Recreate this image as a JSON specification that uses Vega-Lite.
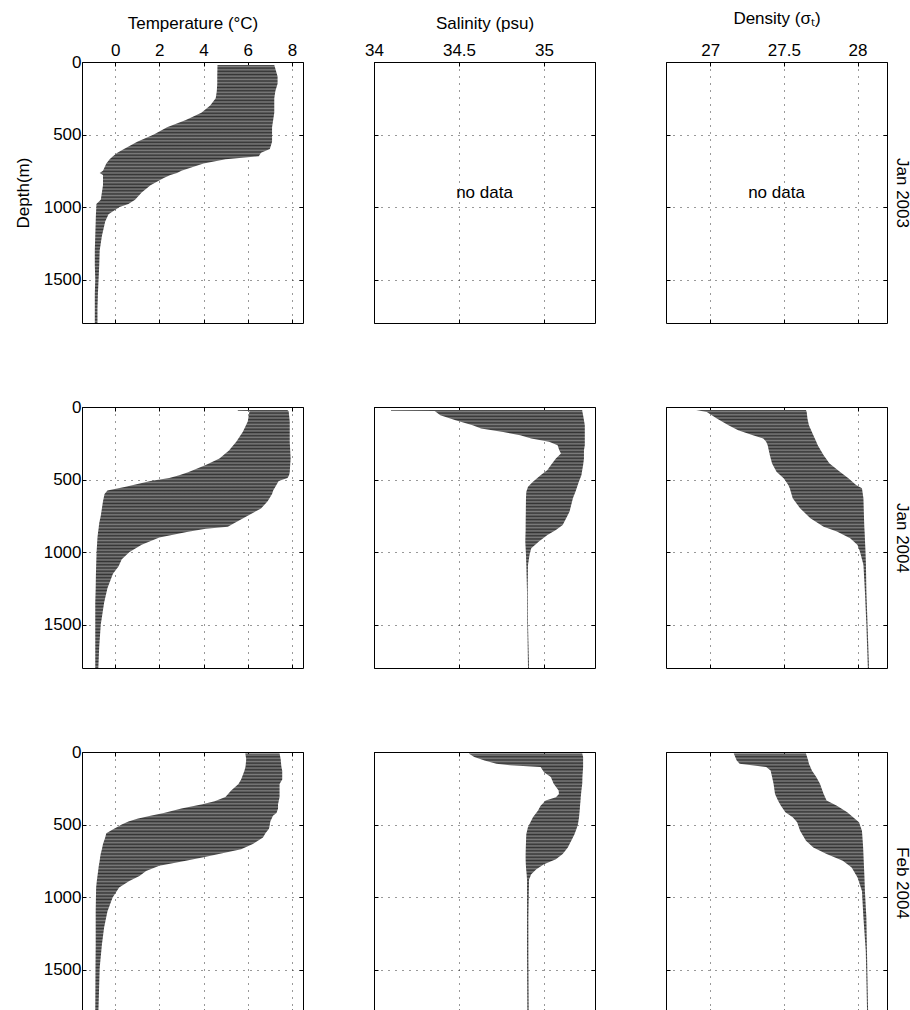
{
  "$schema": "https://vega.github.io/schema/vega-lite/v6.json",
  "padding": {"left": 13, "top": 8, "right": 25, "bottom": 0},
  "background": "white",
  "datasets": {
    "profiles": [
      {"date":"Jan 2003","var":"T","depth":20,"min":4.63,"max":7.2},
      {"date":"Jan 2003","var":"T","depth":100,"min":4.62,"max":7.35},
      {"date":"Jan 2003","var":"T","depth":150,"min":4.62,"max":7.35},
      {"date":"Jan 2003","var":"T","depth":200,"min":4.6,"max":7.25},
      {"date":"Jan 2003","var":"T","depth":250,"min":4.55,"max":7.2},
      {"date":"Jan 2003","var":"T","depth":300,"min":4.3,"max":7.2},
      {"date":"Jan 2003","var":"T","depth":350,"min":3.9,"max":7.2},
      {"date":"Jan 2003","var":"T","depth":400,"min":3.2,"max":7.15},
      {"date":"Jan 2003","var":"T","depth":450,"min":2.35,"max":7.1},
      {"date":"Jan 2003","var":"T","depth":500,"min":1.75,"max":7.1},
      {"date":"Jan 2003","var":"T","depth":550,"min":1.0,"max":7.1},
      {"date":"Jan 2003","var":"T","depth":600,"min":0.4,"max":7.0},
      {"date":"Jan 2003","var":"T","depth":625,"min":0.1,"max":6.6},
      {"date":"Jan 2003","var":"T","depth":650,"min":-0.1,"max":6.5},
      {"date":"Jan 2003","var":"T","depth":670,"min":-0.25,"max":5.0},
      {"date":"Jan 2003","var":"T","depth":700,"min":-0.4,"max":4.0},
      {"date":"Jan 2003","var":"T","depth":750,"min":-0.55,"max":3.0},
      {"date":"Jan 2003","var":"T","depth":765,"min":-0.7,"max":2.8},
      {"date":"Jan 2003","var":"T","depth":780,"min":-0.55,"max":2.5},
      {"date":"Jan 2003","var":"T","depth":800,"min":-0.55,"max":2.2},
      {"date":"Jan 2003","var":"T","depth":850,"min":-0.55,"max":1.6},
      {"date":"Jan 2003","var":"T","depth":900,"min":-0.6,"max":1.2},
      {"date":"Jan 2003","var":"T","depth":950,"min":-0.65,"max":0.9},
      {"date":"Jan 2003","var":"T","depth":980,"min":-0.85,"max":0.6},
      {"date":"Jan 2003","var":"T","depth":1000,"min":-0.85,"max":0.2},
      {"date":"Jan 2003","var":"T","depth":1050,"min":-0.87,"max":-0.3},
      {"date":"Jan 2003","var":"T","depth":1100,"min":-0.88,"max":-0.45},
      {"date":"Jan 2003","var":"T","depth":1200,"min":-0.9,"max":-0.6},
      {"date":"Jan 2003","var":"T","depth":1300,"min":-0.92,"max":-0.7},
      {"date":"Jan 2003","var":"T","depth":1400,"min":-0.92,"max":-0.72},
      {"date":"Jan 2003","var":"T","depth":1500,"min":-0.9,"max":-0.75},
      {"date":"Jan 2003","var":"T","depth":1600,"min":-0.92,"max":-0.78},
      {"date":"Jan 2003","var":"T","depth":1700,"min":-0.92,"max":-0.8},
      {"date":"Jan 2003","var":"T","depth":1800,"min":-0.92,"max":-0.8},

      {"date":"Jan 2004","var":"T","depth":20,"min":5.55,"max":7.8},
      {"date":"Jan 2004","var":"T","depth":26,"min":5.55,"max":7.82},
      {"date":"Jan 2004","var":"T","depth":28,"min":6.08,"max":7.85},
      {"date":"Jan 2004","var":"T","depth":100,"min":6.0,"max":7.9},
      {"date":"Jan 2004","var":"T","depth":170,"min":5.78,"max":7.9},
      {"date":"Jan 2004","var":"T","depth":240,"min":5.48,"max":7.9},
      {"date":"Jan 2004","var":"T","depth":300,"min":5.15,"max":7.92},
      {"date":"Jan 2004","var":"T","depth":355,"min":4.72,"max":7.94},
      {"date":"Jan 2004","var":"T","depth":400,"min":4.1,"max":7.92},
      {"date":"Jan 2004","var":"T","depth":450,"min":3.3,"max":7.9},
      {"date":"Jan 2004","var":"T","depth":470,"min":2.9,"max":7.87},
      {"date":"Jan 2004","var":"T","depth":490,"min":2.45,"max":7.8},
      {"date":"Jan 2004","var":"T","depth":510,"min":1.6,"max":7.4},
      {"date":"Jan 2004","var":"T","depth":550,"min":0.48,"max":7.25},
      {"date":"Jan 2004","var":"T","depth":575,"min":-0.35,"max":7.15},
      {"date":"Jan 2004","var":"T","depth":600,"min":-0.48,"max":7.1},
      {"date":"Jan 2004","var":"T","depth":650,"min":-0.55,"max":6.9},
      {"date":"Jan 2004","var":"T","depth":700,"min":-0.6,"max":6.6},
      {"date":"Jan 2004","var":"T","depth":750,"min":-0.65,"max":6.0},
      {"date":"Jan 2004","var":"T","depth":800,"min":-0.72,"max":5.4},
      {"date":"Jan 2004","var":"T","depth":825,"min":-0.74,"max":5.1},
      {"date":"Jan 2004","var":"T","depth":840,"min":-0.75,"max":4.1},
      {"date":"Jan 2004","var":"T","depth":860,"min":-0.77,"max":3.3},
      {"date":"Jan 2004","var":"T","depth":900,"min":-0.8,"max":2.0},
      {"date":"Jan 2004","var":"T","depth":950,"min":-0.82,"max":1.2},
      {"date":"Jan 2004","var":"T","depth":1000,"min":-0.84,"max":0.65},
      {"date":"Jan 2004","var":"T","depth":1050,"min":-0.85,"max":0.3},
      {"date":"Jan 2004","var":"T","depth":1100,"min":-0.86,"max":0.15},
      {"date":"Jan 2004","var":"T","depth":1150,"min":-0.87,"max":-0.1},
      {"date":"Jan 2004","var":"T","depth":1250,"min":-0.88,"max":-0.35},
      {"date":"Jan 2004","var":"T","depth":1350,"min":-0.9,"max":-0.5},
      {"date":"Jan 2004","var":"T","depth":1500,"min":-0.9,"max":-0.65},
      {"date":"Jan 2004","var":"T","depth":1650,"min":-0.9,"max":-0.72},
      {"date":"Jan 2004","var":"T","depth":1800,"min":-0.9,"max":-0.76},

      {"date":"Feb 2004","var":"T","depth":10,"min":5.89,"max":7.44},
      {"date":"Feb 2004","var":"T","depth":50,"min":5.93,"max":7.49},
      {"date":"Feb 2004","var":"T","depth":100,"min":5.9,"max":7.52},
      {"date":"Feb 2004","var":"T","depth":130,"min":5.85,"max":7.56},
      {"date":"Feb 2004","var":"T","depth":190,"min":5.7,"max":7.56},
      {"date":"Feb 2004","var":"T","depth":220,"min":5.58,"max":7.44},
      {"date":"Feb 2004","var":"T","depth":265,"min":5.25,"max":7.44},
      {"date":"Feb 2004","var":"T","depth":310,"min":4.99,"max":7.44},
      {"date":"Feb 2004","var":"T","depth":340,"min":4.5,"max":7.4},
      {"date":"Feb 2004","var":"T","depth":360,"min":3.95,"max":7.37},
      {"date":"Feb 2004","var":"T","depth":390,"min":3.0,"max":7.37},
      {"date":"Feb 2004","var":"T","depth":420,"min":2.2,"max":7.3},
      {"date":"Feb 2004","var":"T","depth":440,"min":1.6,"max":7.14},
      {"date":"Feb 2004","var":"T","depth":460,"min":1.0,"max":7.08},
      {"date":"Feb 2004","var":"T","depth":480,"min":0.6,"max":7.02},
      {"date":"Feb 2004","var":"T","depth":500,"min":0.3,"max":7.0},
      {"date":"Feb 2004","var":"T","depth":530,"min":-0.05,"max":6.96},
      {"date":"Feb 2004","var":"T","depth":560,"min":-0.4,"max":6.8},
      {"date":"Feb 2004","var":"T","depth":590,"min":-0.45,"max":6.69},
      {"date":"Feb 2004","var":"T","depth":635,"min":-0.55,"max":6.23},
      {"date":"Feb 2004","var":"T","depth":670,"min":-0.6,"max":5.7},
      {"date":"Feb 2004","var":"T","depth":700,"min":-0.65,"max":4.8},
      {"date":"Feb 2004","var":"T","depth":725,"min":-0.68,"max":4.0},
      {"date":"Feb 2004","var":"T","depth":750,"min":-0.7,"max":3.2},
      {"date":"Feb 2004","var":"T","depth":785,"min":-0.74,"max":2.0},
      {"date":"Feb 2004","var":"T","depth":820,"min":-0.77,"max":1.4},
      {"date":"Feb 2004","var":"T","depth":855,"min":-0.8,"max":1.1},
      {"date":"Feb 2004","var":"T","depth":890,"min":-0.83,"max":0.64},
      {"date":"Feb 2004","var":"T","depth":935,"min":-0.86,"max":0.18},
      {"date":"Feb 2004","var":"T","depth":1005,"min":-0.87,"max":-0.12},
      {"date":"Feb 2004","var":"T","depth":1100,"min":-0.88,"max":-0.35},
      {"date":"Feb 2004","var":"T","depth":1210,"min":-0.88,"max":-0.5},
      {"date":"Feb 2004","var":"T","depth":1330,"min":-0.88,"max":-0.6},
      {"date":"Feb 2004","var":"T","depth":1490,"min":-0.89,"max":-0.7},
      {"date":"Feb 2004","var":"T","depth":1800,"min":-0.9,"max":-0.76},

      {"date":"Jan 2004","var":"S","depth":20,"min":34.1,"max":35.225},
      {"date":"Jan 2004","var":"S","depth":26,"min":34.1,"max":35.225},
      {"date":"Jan 2004","var":"S","depth":28,"min":34.357,"max":35.225},
      {"date":"Jan 2004","var":"S","depth":57,"min":34.39,"max":35.23},
      {"date":"Jan 2004","var":"S","depth":92,"min":34.48,"max":35.235},
      {"date":"Jan 2004","var":"S","depth":126,"min":34.58,"max":35.24},
      {"date":"Jan 2004","var":"S","depth":149,"min":34.63,"max":35.24},
      {"date":"Jan 2004","var":"S","depth":172,"min":34.76,"max":35.24},
      {"date":"Jan 2004","var":"S","depth":195,"min":34.86,"max":35.24},
      {"date":"Jan 2004","var":"S","depth":218,"min":34.925,"max":35.24},
      {"date":"Jan 2004","var":"S","depth":240,"min":35.03,"max":35.24},
      {"date":"Jan 2004","var":"S","depth":263,"min":35.08,"max":35.24},
      {"date":"Jan 2004","var":"S","depth":298,"min":35.09,"max":35.235},
      {"date":"Jan 2004","var":"S","depth":321,"min":35.1,"max":35.235},
      {"date":"Jan 2004","var":"S","depth":355,"min":35.07,"max":35.235},
      {"date":"Jan 2004","var":"S","depth":401,"min":35.04,"max":35.23},
      {"date":"Jan 2004","var":"S","depth":435,"min":35.02,"max":35.225},
      {"date":"Jan 2004","var":"S","depth":470,"min":34.98,"max":35.22},
      {"date":"Jan 2004","var":"S","depth":515,"min":34.935,"max":35.205},
      {"date":"Jan 2004","var":"S","depth":550,"min":34.906,"max":35.195},
      {"date":"Jan 2004","var":"S","depth":584,"min":34.896,"max":35.185},
      {"date":"Jan 2004","var":"S","depth":630,"min":34.894,"max":35.17},
      {"date":"Jan 2004","var":"S","depth":722,"min":34.893,"max":35.15},
      {"date":"Jan 2004","var":"S","depth":813,"min":34.892,"max":35.11},
      {"date":"Jan 2004","var":"S","depth":848,"min":34.892,"max":35.07},
      {"date":"Jan 2004","var":"S","depth":882,"min":34.891,"max":35.02},
      {"date":"Jan 2004","var":"S","depth":928,"min":34.89,"max":34.97},
      {"date":"Jan 2004","var":"S","depth":974,"min":34.892,"max":34.925},
      {"date":"Jan 2004","var":"S","depth":1019,"min":34.894,"max":34.915},
      {"date":"Jan 2004","var":"S","depth":1088,"min":34.896,"max":34.906},
      {"date":"Jan 2004","var":"S","depth":1271,"min":34.9,"max":34.904},
      {"date":"Jan 2004","var":"S","depth":1501,"min":34.902,"max":34.906},
      {"date":"Jan 2004","var":"S","depth":1800,"min":34.906,"max":34.912},

      {"date":"Feb 2004","var":"S","depth":10,"min":34.557,"max":35.225},
      {"date":"Feb 2004","var":"S","depth":35,"min":34.59,"max":35.23},
      {"date":"Feb 2004","var":"S","depth":58,"min":34.65,"max":35.23},
      {"date":"Feb 2004","var":"S","depth":81,"min":34.72,"max":35.23},
      {"date":"Feb 2004","var":"S","depth":92,"min":34.8,"max":35.23},
      {"date":"Feb 2004","var":"S","depth":104,"min":34.98,"max":35.23},
      {"date":"Feb 2004","var":"S","depth":139,"min":35.0,"max":35.228},
      {"date":"Feb 2004","var":"S","depth":173,"min":35.04,"max":35.226},
      {"date":"Feb 2004","var":"S","depth":219,"min":35.057,"max":35.225},
      {"date":"Feb 2004","var":"S","depth":266,"min":35.086,"max":35.22},
      {"date":"Feb 2004","var":"S","depth":289,"min":35.088,"max":35.218},
      {"date":"Feb 2004","var":"S","depth":312,"min":35.07,"max":35.216},
      {"date":"Feb 2004","var":"S","depth":335,"min":35.01,"max":35.215},
      {"date":"Feb 2004","var":"S","depth":370,"min":34.98,"max":35.212},
      {"date":"Feb 2004","var":"S","depth":404,"min":34.965,"max":35.21},
      {"date":"Feb 2004","var":"S","depth":450,"min":34.935,"max":35.206},
      {"date":"Feb 2004","var":"S","depth":497,"min":34.915,"max":35.2},
      {"date":"Feb 2004","var":"S","depth":520,"min":34.905,"max":35.194},
      {"date":"Feb 2004","var":"S","depth":566,"min":34.896,"max":35.18},
      {"date":"Feb 2004","var":"S","depth":589,"min":34.895,"max":35.17},
      {"date":"Feb 2004","var":"S","depth":658,"min":34.893,"max":35.14},
      {"date":"Feb 2004","var":"S","depth":704,"min":34.892,"max":35.11},
      {"date":"Feb 2004","var":"S","depth":739,"min":34.892,"max":35.07},
      {"date":"Feb 2004","var":"S","depth":774,"min":34.893,"max":35.0},
      {"date":"Feb 2004","var":"S","depth":808,"min":34.895,"max":34.955},
      {"date":"Feb 2004","var":"S","depth":843,"min":34.898,"max":34.925},
      {"date":"Feb 2004","var":"S","depth":880,"min":34.9,"max":34.912},
      {"date":"Feb 2004","var":"S","depth":1143,"min":34.9,"max":34.908},
      {"date":"Feb 2004","var":"S","depth":1400,"min":34.9,"max":34.908},
      {"date":"Feb 2004","var":"S","depth":1800,"min":34.902,"max":34.91},

      {"date":"Jan 2004","var":"D","depth":20,"min":26.905,"max":27.65},
      {"date":"Jan 2004","var":"D","depth":34,"min":26.977,"max":27.655},
      {"date":"Jan 2004","var":"D","depth":80,"min":27.045,"max":27.66},
      {"date":"Jan 2004","var":"D","depth":126,"min":27.124,"max":27.67},
      {"date":"Jan 2004","var":"D","depth":160,"min":27.19,"max":27.685},
      {"date":"Jan 2004","var":"D","depth":195,"min":27.29,"max":27.7},
      {"date":"Jan 2004","var":"D","depth":218,"min":27.36,"max":27.71},
      {"date":"Jan 2004","var":"D","depth":240,"min":27.38,"max":27.72},
      {"date":"Jan 2004","var":"D","depth":263,"min":27.39,"max":27.73},
      {"date":"Jan 2004","var":"D","depth":332,"min":27.405,"max":27.77},
      {"date":"Jan 2004","var":"D","depth":389,"min":27.42,"max":27.81},
      {"date":"Jan 2004","var":"D","depth":447,"min":27.45,"max":27.88},
      {"date":"Jan 2004","var":"D","depth":493,"min":27.5,"max":27.94},
      {"date":"Jan 2004","var":"D","depth":538,"min":27.53,"max":27.99},
      {"date":"Jan 2004","var":"D","depth":561,"min":27.54,"max":28.03},
      {"date":"Jan 2004","var":"D","depth":630,"min":27.56,"max":28.04},
      {"date":"Jan 2004","var":"D","depth":699,"min":27.61,"max":28.042},
      {"date":"Jan 2004","var":"D","depth":767,"min":27.68,"max":28.044},
      {"date":"Jan 2004","var":"D","depth":825,"min":27.77,"max":28.046},
      {"date":"Jan 2004","var":"D","depth":859,"min":27.86,"max":28.048},
      {"date":"Jan 2004","var":"D","depth":905,"min":27.95,"max":28.05},
      {"date":"Jan 2004","var":"D","depth":951,"min":28.0,"max":28.052},
      {"date":"Jan 2004","var":"D","depth":997,"min":28.016,"max":28.054},
      {"date":"Jan 2004","var":"D","depth":1088,"min":28.04,"max":28.057},
      {"date":"Jan 2004","var":"D","depth":1271,"min":28.05,"max":28.06},
      {"date":"Jan 2004","var":"D","depth":1501,"min":28.06,"max":28.068},
      {"date":"Jan 2004","var":"D","depth":1800,"min":28.07,"max":28.078},

      {"date":"Feb 2004","var":"D","depth":10,"min":27.16,"max":27.65},
      {"date":"Feb 2004","var":"D","depth":58,"min":27.18,"max":27.665},
      {"date":"Feb 2004","var":"D","depth":81,"min":27.2,"max":27.67},
      {"date":"Feb 2004","var":"D","depth":104,"min":27.38,"max":27.68},
      {"date":"Feb 2004","var":"D","depth":127,"min":27.41,"max":27.69},
      {"date":"Feb 2004","var":"D","depth":173,"min":27.42,"max":27.72},
      {"date":"Feb 2004","var":"D","depth":219,"min":27.43,"max":27.745},
      {"date":"Feb 2004","var":"D","depth":289,"min":27.44,"max":27.77},
      {"date":"Feb 2004","var":"D","depth":335,"min":27.46,"max":27.79},
      {"date":"Feb 2004","var":"D","depth":370,"min":27.48,"max":27.86},
      {"date":"Feb 2004","var":"D","depth":416,"min":27.51,"max":27.93},
      {"date":"Feb 2004","var":"D","depth":450,"min":27.56,"max":27.97},
      {"date":"Feb 2004","var":"D","depth":485,"min":27.59,"max":28.01},
      {"date":"Feb 2004","var":"D","depth":543,"min":27.61,"max":28.03},
      {"date":"Feb 2004","var":"D","depth":612,"min":27.65,"max":28.035},
      {"date":"Feb 2004","var":"D","depth":658,"min":27.7,"max":28.038},
      {"date":"Feb 2004","var":"D","depth":704,"min":27.79,"max":28.04},
      {"date":"Feb 2004","var":"D","depth":750,"min":27.9,"max":28.042},
      {"date":"Feb 2004","var":"D","depth":797,"min":27.96,"max":28.044},
      {"date":"Feb 2004","var":"D","depth":866,"min":28.0,"max":28.047},
      {"date":"Feb 2004","var":"D","depth":958,"min":28.03,"max":28.05},
      {"date":"Feb 2004","var":"D","depth":1143,"min":28.04,"max":28.06},
      {"date":"Feb 2004","var":"D","depth":1374,"min":28.056,"max":28.064},
      {"date":"Feb 2004","var":"D","depth":1800,"min":28.065,"max":28.072}
    ]
  },
  "columns": 3,
  "spacing": {"row": 84, "column": 71},
  "bounds": "flush",
  "concat": [
    {
      "width": 221, "height": 261,
      "layer": [
        {"data": {"name": "profiles"}, "transform": [{"filter": "datum.date == 'Jan 2003' && datum.var == 'T'"}],
         "mark": {"type": "area", "orient": "horizontal"},
         "encoding": {
           "x": {"field": "min", "type": "quantitative", "scale": {"domain": [-1.5, 8.5], "nice": false, "zero": false}, "axis": {"orient": "top", "values": [0, 2, 4, 6, 8], "format": "~g", "title": "Temperature (°C)"}},
           "x2": {"field": "max"},
           "y": {"field": "depth", "type": "quantitative", "scale": {"domain": [0, 1800], "reverse": true, "nice": false, "zero": false}, "axis": {"orient": "left", "values": [0, 500, 1000, 1500], "format": "d", "title": "Depth(m)"}}
         }},
        {"data": {"values": [{}]}, "mark": {"type": "point", "opacity": 0},
         "encoding": {
           "x": {"datum": 0, "type": "quantitative", "axis": {"orient": "bottom", "values": [0, 2, 4, 6, 8], "labels": false, "grid": false, "title": null}},
           "y": {"datum": 500, "type": "quantitative", "axis": {"orient": "right", "values": [0, 500, 1000, 1500], "labels": false, "grid": false, "title": null}}
         }}
      ],
      "resolve": {"axis": {"x": "independent", "y": "independent"}}
    },
    {
      "width": 221, "height": 261,
      "layer": [
        {"data": {"values": [{"note": "no data"}]},
         "mark": {"type": "text", "fontSize": 17, "color": "#000"},
         "encoding": {
           "x": {"datum": 34.65, "type": "quantitative", "scale": {"domain": [34, 35.3], "nice": false, "zero": false}, "axis": {"orient": "top", "values": [34, 34.5, 35], "format": "~g", "title": "Salinity (psu)"}},
           "y": {"datum": 900, "type": "quantitative", "scale": {"domain": [0, 1800], "reverse": true, "nice": false, "zero": false}, "axis": {"orient": "left", "values": [0, 500, 1000, 1500], "labels": false, "title": null}},
           "text": {"field": "note"}
         }},
        {"data": {"values": [{}]}, "mark": {"type": "point", "opacity": 0},
         "encoding": {
           "x": {"datum": 34.5, "type": "quantitative", "axis": {"orient": "bottom", "values": [34, 34.5, 35], "labels": false, "grid": false, "title": null}},
           "y": {"datum": 500, "type": "quantitative", "axis": {"orient": "right", "values": [0, 500, 1000, 1500], "labels": false, "grid": false, "title": null}}
         }}
      ],
      "resolve": {"axis": {"x": "independent", "y": "independent"}}
    },
    {
      "width": 221, "height": 261,
      "layer": [
        {"data": {"values": [{"note": "no data"}]},
         "mark": {"type": "text", "fontSize": 17, "color": "#000"},
         "encoding": {
           "x": {"datum": 27.45, "type": "quantitative", "scale": {"domain": [26.7, 28.2], "nice": false, "zero": false}, "axis": {"orient": "top", "values": [27, 27.5, 28], "format": "~g", "title": "Density (σₜ)", "titlePadding": 14}},
           "y": {"datum": 900, "type": "quantitative", "scale": {"domain": [0, 1800], "reverse": true, "nice": false, "zero": false}, "axis": {"orient": "left", "values": [0, 500, 1000, 1500], "labels": false, "title": null}},
           "text": {"field": "note"}
         }},
        {"data": {"values": [{}]}, "mark": {"type": "point", "opacity": 0},
         "encoding": {
           "x": {"datum": 27.5, "type": "quantitative", "axis": {"orient": "bottom", "values": [27, 27.5, 28], "labels": false, "grid": false, "title": null}},
           "y": {"datum": 500, "type": "quantitative", "axis": {"orient": "right", "values": [0, 500, 1000, 1500], "labels": false, "grid": false, "title": "Jan 2003"}}
         }}
      ],
      "resolve": {"axis": {"x": "independent", "y": "independent"}}
    },
    {
      "width": 221, "height": 261,
      "layer": [
        {"data": {"name": "profiles"}, "transform": [{"filter": "datum.date == 'Jan 2004' && datum.var == 'T'"}],
         "mark": {"type": "area", "orient": "horizontal"},
         "encoding": {
           "x": {"field": "min", "type": "quantitative", "scale": {"domain": [-1.5, 8.5], "nice": false, "zero": false}, "axis": {"orient": "top", "values": [0, 2, 4, 6, 8], "labels": false, "title": null}},
           "x2": {"field": "max"},
           "y": {"field": "depth", "type": "quantitative", "scale": {"domain": [0, 1800], "reverse": true, "nice": false, "zero": false}, "axis": {"orient": "left", "values": [0, 500, 1000, 1500], "format": "d", "title": null}}
         }},
        {"data": {"values": [{}]}, "mark": {"type": "point", "opacity": 0},
         "encoding": {
           "x": {"datum": 0, "type": "quantitative", "axis": {"orient": "bottom", "values": [0, 2, 4, 6, 8], "labels": false, "grid": false, "title": null}},
           "y": {"datum": 500, "type": "quantitative", "axis": {"orient": "right", "values": [0, 500, 1000, 1500], "labels": false, "grid": false, "title": null}}
         }}
      ],
      "resolve": {"axis": {"x": "independent", "y": "independent"}}
    },
    {
      "width": 221, "height": 261,
      "layer": [
        {"data": {"name": "profiles"}, "transform": [{"filter": "datum.date == 'Jan 2004' && datum.var == 'S'"}],
         "mark": {"type": "area", "orient": "horizontal"},
         "encoding": {
           "x": {"field": "min", "type": "quantitative", "scale": {"domain": [34, 35.3], "nice": false, "zero": false}, "axis": {"orient": "top", "values": [34, 34.5, 35], "labels": false, "title": null}},
           "x2": {"field": "max"},
           "y": {"field": "depth", "type": "quantitative", "scale": {"domain": [0, 1800], "reverse": true, "nice": false, "zero": false}, "axis": {"orient": "left", "values": [0, 500, 1000, 1500], "labels": false, "title": null}}
         }},
        {"data": {"values": [{}]}, "mark": {"type": "point", "opacity": 0},
         "encoding": {
           "x": {"datum": 34.5, "type": "quantitative", "axis": {"orient": "bottom", "values": [34, 34.5, 35], "labels": false, "grid": false, "title": null}},
           "y": {"datum": 500, "type": "quantitative", "axis": {"orient": "right", "values": [0, 500, 1000, 1500], "labels": false, "grid": false, "title": null}}
         }}
      ],
      "resolve": {"axis": {"x": "independent", "y": "independent"}}
    },
    {
      "width": 221, "height": 261,
      "layer": [
        {"data": {"name": "profiles"}, "transform": [{"filter": "datum.date == 'Jan 2004' && datum.var == 'D'"}],
         "mark": {"type": "area", "orient": "horizontal"},
         "encoding": {
           "x": {"field": "min", "type": "quantitative", "scale": {"domain": [26.7, 28.2], "nice": false, "zero": false}, "axis": {"orient": "top", "values": [27, 27.5, 28], "labels": false, "title": null}},
           "x2": {"field": "max"},
           "y": {"field": "depth", "type": "quantitative", "scale": {"domain": [0, 1800], "reverse": true, "nice": false, "zero": false}, "axis": {"orient": "left", "values": [0, 500, 1000, 1500], "labels": false, "title": null}}
         }},
        {"data": {"values": [{}]}, "mark": {"type": "point", "opacity": 0},
         "encoding": {
           "x": {"datum": 27.5, "type": "quantitative", "axis": {"orient": "bottom", "values": [27, 27.5, 28], "labels": false, "grid": false, "title": null}},
           "y": {"datum": 500, "type": "quantitative", "axis": {"orient": "right", "values": [0, 500, 1000, 1500], "labels": false, "grid": false, "title": "Jan 2004"}}
         }}
      ],
      "resolve": {"axis": {"x": "independent", "y": "independent"}}
    },
    {
      "width": 221, "height": 261,
      "layer": [
        {"data": {"name": "profiles"}, "transform": [{"filter": "datum.date == 'Feb 2004' && datum.var == 'T'"}],
         "mark": {"type": "area", "orient": "horizontal"},
         "encoding": {
           "x": {"field": "min", "type": "quantitative", "scale": {"domain": [-1.5, 8.5], "nice": false, "zero": false}, "axis": {"orient": "top", "values": [0, 2, 4, 6, 8], "labels": false, "title": null}},
           "x2": {"field": "max"},
           "y": {"field": "depth", "type": "quantitative", "scale": {"domain": [0, 1800], "reverse": true, "nice": false, "zero": false}, "axis": {"orient": "left", "values": [0, 500, 1000, 1500], "format": "d", "title": null}}
         }},
        {"data": {"values": [{}]}, "mark": {"type": "point", "opacity": 0},
         "encoding": {
           "x": {"datum": 0, "type": "quantitative", "axis": {"orient": "bottom", "values": [0, 2, 4, 6, 8], "labels": false, "grid": false, "title": null}},
           "y": {"datum": 500, "type": "quantitative", "axis": {"orient": "right", "values": [0, 500, 1000, 1500], "labels": false, "grid": false, "title": null}}
         }}
      ],
      "resolve": {"axis": {"x": "independent", "y": "independent"}}
    },
    {
      "width": 221, "height": 261,
      "layer": [
        {"data": {"name": "profiles"}, "transform": [{"filter": "datum.date == 'Feb 2004' && datum.var == 'S'"}],
         "mark": {"type": "area", "orient": "horizontal"},
         "encoding": {
           "x": {"field": "min", "type": "quantitative", "scale": {"domain": [34, 35.3], "nice": false, "zero": false}, "axis": {"orient": "top", "values": [34, 34.5, 35], "labels": false, "title": null}},
           "x2": {"field": "max"},
           "y": {"field": "depth", "type": "quantitative", "scale": {"domain": [0, 1800], "reverse": true, "nice": false, "zero": false}, "axis": {"orient": "left", "values": [0, 500, 1000, 1500], "labels": false, "title": null}}
         }},
        {"data": {"values": [{}]}, "mark": {"type": "point", "opacity": 0},
         "encoding": {
           "x": {"datum": 34.5, "type": "quantitative", "axis": {"orient": "bottom", "values": [34, 34.5, 35], "labels": false, "grid": false, "title": null}},
           "y": {"datum": 500, "type": "quantitative", "axis": {"orient": "right", "values": [0, 500, 1000, 1500], "labels": false, "grid": false, "title": null}}
         }}
      ],
      "resolve": {"axis": {"x": "independent", "y": "independent"}}
    },
    {
      "width": 221, "height": 261,
      "layer": [
        {"data": {"name": "profiles"}, "transform": [{"filter": "datum.date == 'Feb 2004' && datum.var == 'D'"}],
         "mark": {"type": "area", "orient": "horizontal"},
         "encoding": {
           "x": {"field": "min", "type": "quantitative", "scale": {"domain": [26.7, 28.2], "nice": false, "zero": false}, "axis": {"orient": "top", "values": [27, 27.5, 28], "labels": false, "title": null}},
           "x2": {"field": "max"},
           "y": {"field": "depth", "type": "quantitative", "scale": {"domain": [0, 1800], "reverse": true, "nice": false, "zero": false}, "axis": {"orient": "left", "values": [0, 500, 1000, 1500], "labels": false, "title": null}}
         }},
        {"data": {"values": [{}]}, "mark": {"type": "point", "opacity": 0},
         "encoding": {
           "x": {"datum": 27.5, "type": "quantitative", "axis": {"orient": "bottom", "values": [27, 27.5, 28], "labels": false, "grid": false, "title": null}},
           "y": {"datum": 500, "type": "quantitative", "axis": {"orient": "right", "values": [0, 500, 1000, 1500], "labels": false, "grid": false, "title": "Feb 2004"}}
         }}
      ],
      "resolve": {"axis": {"x": "independent", "y": "independent"}}
    }
  ],
  "config": {
    "font": "Liberation Sans",
    "view": {"stroke": "#000", "strokeWidth": 1},
    "area": {
      "color": {
        "gradient": "linear", "x1": 0, "y1": 0, "x2": 0, "y2": 1,
        "stops": [
          {"offset": 0, "color": "#333333"}, {"offset": 0.00625, "color": "#7d7d7d"}, {"offset": 0.0125, "color": "#333333"}, {"offset": 0.01875, "color": "#7d7d7d"},
          {"offset": 0.025, "color": "#333333"}, {"offset": 0.03125, "color": "#7d7d7d"}, {"offset": 0.0375, "color": "#333333"}, {"offset": 0.04375, "color": "#7d7d7d"},
          {"offset": 0.05, "color": "#333333"}, {"offset": 0.05625, "color": "#7d7d7d"}, {"offset": 0.0625, "color": "#333333"}, {"offset": 0.06875, "color": "#7d7d7d"},
          {"offset": 0.075, "color": "#333333"}, {"offset": 0.08125, "color": "#7d7d7d"}, {"offset": 0.0875, "color": "#333333"}, {"offset": 0.09375, "color": "#7d7d7d"},
          {"offset": 0.1, "color": "#333333"}, {"offset": 0.10625, "color": "#7d7d7d"}, {"offset": 0.1125, "color": "#333333"}, {"offset": 0.11875, "color": "#7d7d7d"},
          {"offset": 0.125, "color": "#333333"}, {"offset": 0.13125, "color": "#7d7d7d"}, {"offset": 0.1375, "color": "#333333"}, {"offset": 0.14375, "color": "#7d7d7d"},
          {"offset": 0.15, "color": "#333333"}, {"offset": 0.15625, "color": "#7d7d7d"}, {"offset": 0.1625, "color": "#333333"}, {"offset": 0.16875, "color": "#7d7d7d"},
          {"offset": 0.175, "color": "#333333"}, {"offset": 0.18125, "color": "#7d7d7d"}, {"offset": 0.1875, "color": "#333333"}, {"offset": 0.19375, "color": "#7d7d7d"},
          {"offset": 0.2, "color": "#333333"}, {"offset": 0.20625, "color": "#7d7d7d"}, {"offset": 0.2125, "color": "#333333"}, {"offset": 0.21875, "color": "#7d7d7d"},
          {"offset": 0.225, "color": "#333333"}, {"offset": 0.23125, "color": "#7d7d7d"}, {"offset": 0.2375, "color": "#333333"}, {"offset": 0.24375, "color": "#7d7d7d"},
          {"offset": 0.25, "color": "#333333"}, {"offset": 0.25625, "color": "#7d7d7d"}, {"offset": 0.2625, "color": "#333333"}, {"offset": 0.26875, "color": "#7d7d7d"},
          {"offset": 0.275, "color": "#333333"}, {"offset": 0.28125, "color": "#7d7d7d"}, {"offset": 0.2875, "color": "#333333"}, {"offset": 0.29375, "color": "#7d7d7d"},
          {"offset": 0.3, "color": "#333333"}, {"offset": 0.30625, "color": "#7d7d7d"}, {"offset": 0.3125, "color": "#333333"}, {"offset": 0.31875, "color": "#7d7d7d"},
          {"offset": 0.325, "color": "#333333"}, {"offset": 0.33125, "color": "#7d7d7d"}, {"offset": 0.3375, "color": "#333333"}, {"offset": 0.34375, "color": "#7d7d7d"},
          {"offset": 0.35, "color": "#333333"}, {"offset": 0.35625, "color": "#7d7d7d"}, {"offset": 0.3625, "color": "#333333"}, {"offset": 0.36875, "color": "#7d7d7d"},
          {"offset": 0.375, "color": "#333333"}, {"offset": 0.38125, "color": "#7d7d7d"}, {"offset": 0.3875, "color": "#333333"}, {"offset": 0.39375, "color": "#7d7d7d"},
          {"offset": 0.4, "color": "#333333"}, {"offset": 0.40625, "color": "#7d7d7d"}, {"offset": 0.4125, "color": "#333333"}, {"offset": 0.41875, "color": "#7d7d7d"},
          {"offset": 0.425, "color": "#333333"}, {"offset": 0.43125, "color": "#7d7d7d"}, {"offset": 0.4375, "color": "#333333"}, {"offset": 0.44375, "color": "#7d7d7d"},
          {"offset": 0.45, "color": "#333333"}, {"offset": 0.45625, "color": "#7d7d7d"}, {"offset": 0.4625, "color": "#333333"}, {"offset": 0.46875, "color": "#7d7d7d"},
          {"offset": 0.475, "color": "#333333"}, {"offset": 0.48125, "color": "#7d7d7d"}, {"offset": 0.4875, "color": "#333333"}, {"offset": 0.49375, "color": "#7d7d7d"},
          {"offset": 0.5, "color": "#333333"}, {"offset": 0.50625, "color": "#7d7d7d"}, {"offset": 0.5125, "color": "#333333"}, {"offset": 0.51875, "color": "#7d7d7d"},
          {"offset": 0.525, "color": "#333333"}, {"offset": 0.53125, "color": "#7d7d7d"}, {"offset": 0.5375, "color": "#333333"}, {"offset": 0.54375, "color": "#7d7d7d"},
          {"offset": 0.55, "color": "#333333"}, {"offset": 0.55625, "color": "#7d7d7d"}, {"offset": 0.5625, "color": "#333333"}, {"offset": 0.56875, "color": "#7d7d7d"},
          {"offset": 0.575, "color": "#333333"}, {"offset": 0.58125, "color": "#7d7d7d"}, {"offset": 0.5875, "color": "#333333"}, {"offset": 0.59375, "color": "#7d7d7d"},
          {"offset": 0.6, "color": "#333333"}, {"offset": 0.60625, "color": "#7d7d7d"}, {"offset": 0.6125, "color": "#333333"}, {"offset": 0.61875, "color": "#7d7d7d"},
          {"offset": 0.625, "color": "#333333"}, {"offset": 0.63125, "color": "#7d7d7d"}, {"offset": 0.6375, "color": "#333333"}, {"offset": 0.64375, "color": "#7d7d7d"},
          {"offset": 0.65, "color": "#333333"}, {"offset": 0.65625, "color": "#7d7d7d"}, {"offset": 0.6625, "color": "#333333"}, {"offset": 0.66875, "color": "#7d7d7d"},
          {"offset": 0.675, "color": "#333333"}, {"offset": 0.68125, "color": "#7d7d7d"}, {"offset": 0.6875, "color": "#333333"}, {"offset": 0.69375, "color": "#7d7d7d"},
          {"offset": 0.7, "color": "#333333"}, {"offset": 0.70625, "color": "#7d7d7d"}, {"offset": 0.7125, "color": "#333333"}, {"offset": 0.71875, "color": "#7d7d7d"},
          {"offset": 0.725, "color": "#333333"}, {"offset": 0.73125, "color": "#7d7d7d"}, {"offset": 0.7375, "color": "#333333"}, {"offset": 0.74375, "color": "#7d7d7d"},
          {"offset": 0.75, "color": "#333333"}, {"offset": 0.75625, "color": "#7d7d7d"}, {"offset": 0.7625, "color": "#333333"}, {"offset": 0.76875, "color": "#7d7d7d"},
          {"offset": 0.775, "color": "#333333"}, {"offset": 0.78125, "color": "#7d7d7d"}, {"offset": 0.7875, "color": "#333333"}, {"offset": 0.79375, "color": "#7d7d7d"},
          {"offset": 0.8, "color": "#333333"}, {"offset": 0.80625, "color": "#7d7d7d"}, {"offset": 0.8125, "color": "#333333"}, {"offset": 0.81875, "color": "#7d7d7d"},
          {"offset": 0.825, "color": "#333333"}, {"offset": 0.83125, "color": "#7d7d7d"}, {"offset": 0.8375, "color": "#333333"}, {"offset": 0.84375, "color": "#7d7d7d"},
          {"offset": 0.85, "color": "#333333"}, {"offset": 0.85625, "color": "#7d7d7d"}, {"offset": 0.8625, "color": "#333333"}, {"offset": 0.86875, "color": "#7d7d7d"},
          {"offset": 0.875, "color": "#333333"}, {"offset": 0.88125, "color": "#7d7d7d"}, {"offset": 0.8875, "color": "#333333"}, {"offset": 0.89375, "color": "#7d7d7d"},
          {"offset": 0.9, "color": "#333333"}, {"offset": 0.90625, "color": "#7d7d7d"}, {"offset": 0.9125, "color": "#333333"}, {"offset": 0.91875, "color": "#7d7d7d"},
          {"offset": 0.925, "color": "#333333"}, {"offset": 0.93125, "color": "#7d7d7d"}, {"offset": 0.9375, "color": "#333333"}, {"offset": 0.94375, "color": "#7d7d7d"},
          {"offset": 0.95, "color": "#333333"}, {"offset": 0.95625, "color": "#7d7d7d"}, {"offset": 0.9625, "color": "#333333"}, {"offset": 0.96875, "color": "#7d7d7d"},
          {"offset": 0.975, "color": "#333333"}, {"offset": 0.98125, "color": "#7d7d7d"}, {"offset": 0.9875, "color": "#333333"}, {"offset": 0.99375, "color": "#7d7d7d"},
          {"offset": 1, "color": "#333333"}
        ]
      }
    },
    "axis": {
      "domain": false,
      "grid": true,
      "gridColor": "#000",
      "gridDash": [1, 6],
      "gridOpacity": 0.8,
      "tickColor": "#000",
      "tickSize": -4,
      "labelFontSize": 17,
      "labelColor": "#000",
      "labelFlush": false,
      "labelOverlap": false,
      "titleFontSize": 17,
      "titleFontWeight": "normal",
      "titleColor": "#000"
    },
    "axisX": {"labelPadding": 7, "titlePadding": 9},
    "axisY": {"labelPadding": 5},
    "axisLeft": {"titlePadding": 11},
    "axisRight": {"titlePadding": 5}
  }
}
